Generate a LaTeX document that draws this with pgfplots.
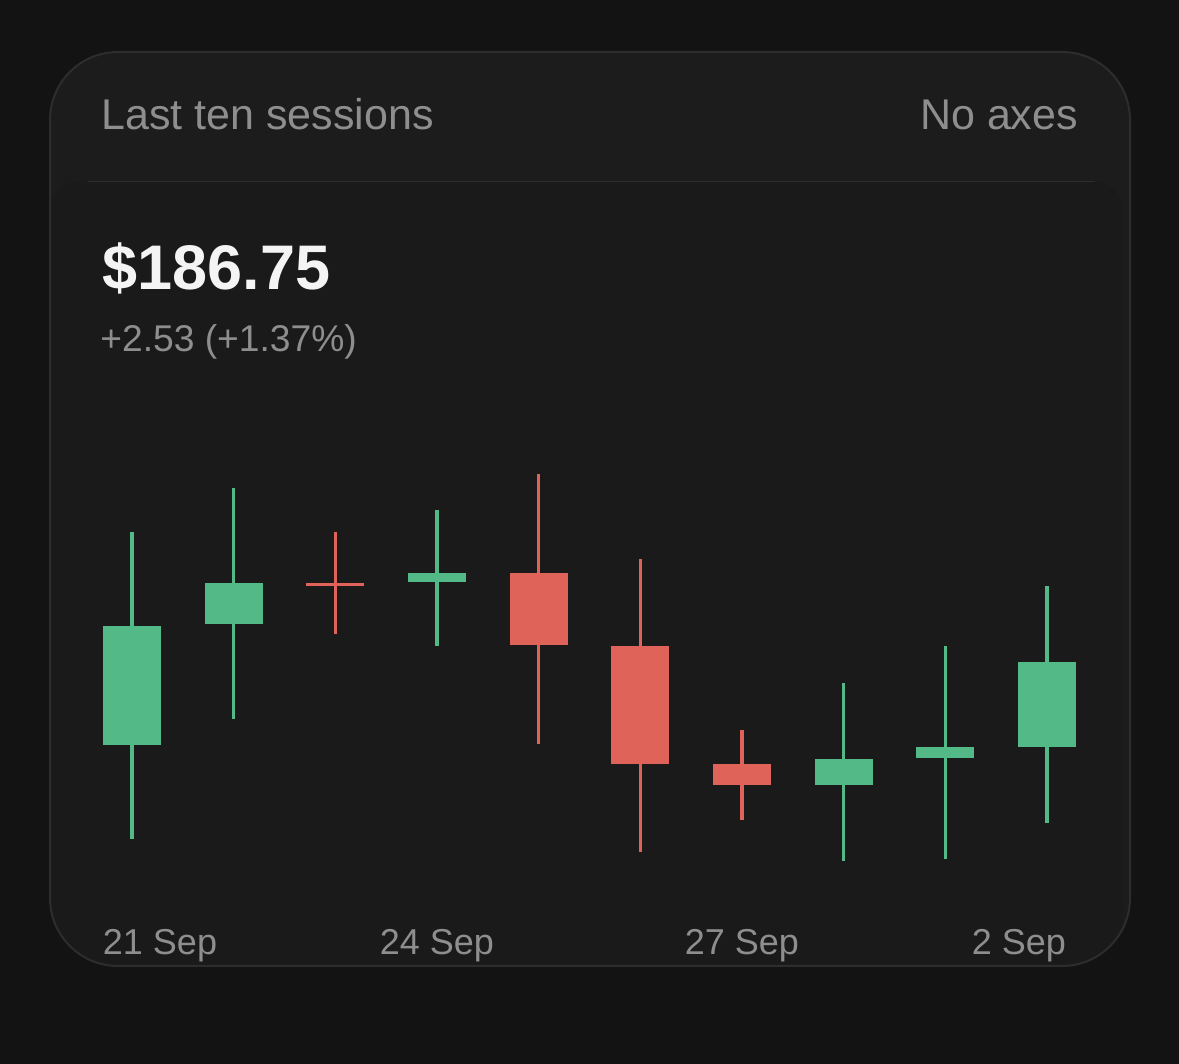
\documentclass[border=0pt]{standalone}
\usepackage{pgfplots}
\usepackage{pgfplotstable}
\pgfplotsset{compat=1.18}
\usepackage{fontspec}
\setmainfont{Liberation Sans}

\definecolor{pageBg}{HTML}{131313}
\definecolor{cardBg}{HTML}{1C1C1C}
\definecolor{panelBg}{HTML}{1A1A1A}
\definecolor{cardLine}{HTML}{2D2D2D}
\definecolor{mutedText}{HTML}{8E8E8E}
\definecolor{priceText}{HTML}{F4F4F4}
\definecolor{upGreen}{HTML}{52B987}
\definecolor{downRed}{HTML}{E0635A}

% OHLC, one table per direction
\pgfplotstableread{
x  open   high   low    close
1  184.28 190.62 181.48 187.82
2  187.88 191.93 185.05 189.10
4  189.13 191.27 187.23 189.40
8  183.09 186.13 180.83 183.86
9  183.89 187.23 180.89 184.22
10 184.22 189.01 181.96 186.75
}\upTable

\pgfplotstableread{
x  open   high   low    close
3  189.10 190.62 187.58 189.01
5  189.40 192.35 184.31 187.26
6  187.23 189.82 181.10 183.71
7  183.71 184.73 182.05 183.09
}\downTable

\begin{document}
\begin{tikzpicture}
    % fond + carte
    \fill[pageBg] (0,0) rectangle (589.5pt,532pt);
    \begin{scope}
        \path[clip, rounded corners=34pt] (25pt,49pt) rectangle (565pt,506pt);
        \fill[cardBg] (25pt,49pt) rectangle (565pt,506pt);
        \fill[panelBg, rounded corners=14pt] (25pt,20pt) rectangle (561pt,441.25pt);
    \end{scope}
    \draw[cardLine, line width=1pt, rounded corners=34pt] (25pt,49pt) rectangle (565pt,506pt);
    \draw[cardLine, line width=0.75pt] (44pt,441.25pt) -- (547.5pt,441.25pt);

    % textes d'en-tete
    \node[anchor=base west, inner sep=0, text=mutedText, font=\fontsize{21.5pt}{26pt}\selectfont]
        at (50.5pt,467.35pt) {Last ten sessions};
    \node[anchor=base east, inner sep=0, text=mutedText, font=\fontsize{21.5pt}{26pt}\selectfont]
        at (539.15pt,467.35pt) {No axes};
    \node[anchor=base west, inner sep=0, text=priceText, font=\fontsize{31.5pt}{38pt}\selectfont\bfseries]
        at (51pt,387.35pt) {\$186.75};
    \node[anchor=base west, inner sep=0, text=mutedText, font=\fontsize{18.6pt}{22pt}\selectfont]
        at (50pt,356.15pt) {+2.53 (+1.37\%)};

    \begin{axis}[
        at={(15.15pt,87.6pt)}, anchor=south west,
        width=559.2pt, height=218.4pt, scale only axis,
        xmin=0, xmax=11, ymin=180, ymax=193,
        axis line style={draw=none},
        major tick length=0pt,
        ytick=\empty,
        xtick={1,4,7,10},
        xticklabels={\makebox[0pt][l]{\hspace{-14.5pt}21 Sep}, 24 Sep, 27 Sep, \makebox[0pt][r]{2 Sep\hspace{-9.5pt}}},
        xticklabel style={font=\fontsize{18pt}{22pt}\selectfont, text=mutedText,
            anchor=base, inner sep=0pt, yshift=-32.75pt},
        clip=false,
    ]
    % meches
    \addplot[draw=none, mark=none, forget plot,
        error bars/.cd, y dir=both, y explicit, error mark=none,
        error bar style={draw=upGreen, line width=1.75pt}]
        table[x=x, y expr=(\thisrow{high}+\thisrow{low})/2,
              y error expr=(\thisrow{high}-\thisrow{low})/2] {\upTable};
    \addplot[draw=none, mark=none, forget plot,
        error bars/.cd, y dir=both, y explicit, error mark=none,
        error bar style={draw=downRed, line width=1.75pt}]
        table[x=x, y expr=(\thisrow{high}+\thisrow{low})/2,
              y error expr=(\thisrow{high}-\thisrow{low})/2] {\downTable};
    % corps
    \addplot[draw=none, mark=none, forget plot,
        error bars/.cd, y dir=both, y explicit, error mark=none,
        error bar style={draw=upGreen, line width=29pt}]
        table[x=x, y expr=(\thisrow{open}+\thisrow{close})/2,
              y error expr=abs(\thisrow{close}-\thisrow{open})/2] {\upTable};
    \addplot[draw=none, mark=none, forget plot,
        error bars/.cd, y dir=both, y explicit, error mark=none,
        error bar style={draw=downRed, line width=29pt}]
        table[x=x, y expr=(\thisrow{open}+\thisrow{close})/2,
              y error expr=abs(\thisrow{close}-\thisrow{open})/2] {\downTable};
    \end{axis}

    \pgfresetboundingbox
    \useasboundingbox (0,0) rectangle (589.5pt,532pt);
\end{tikzpicture}
\end{document}
